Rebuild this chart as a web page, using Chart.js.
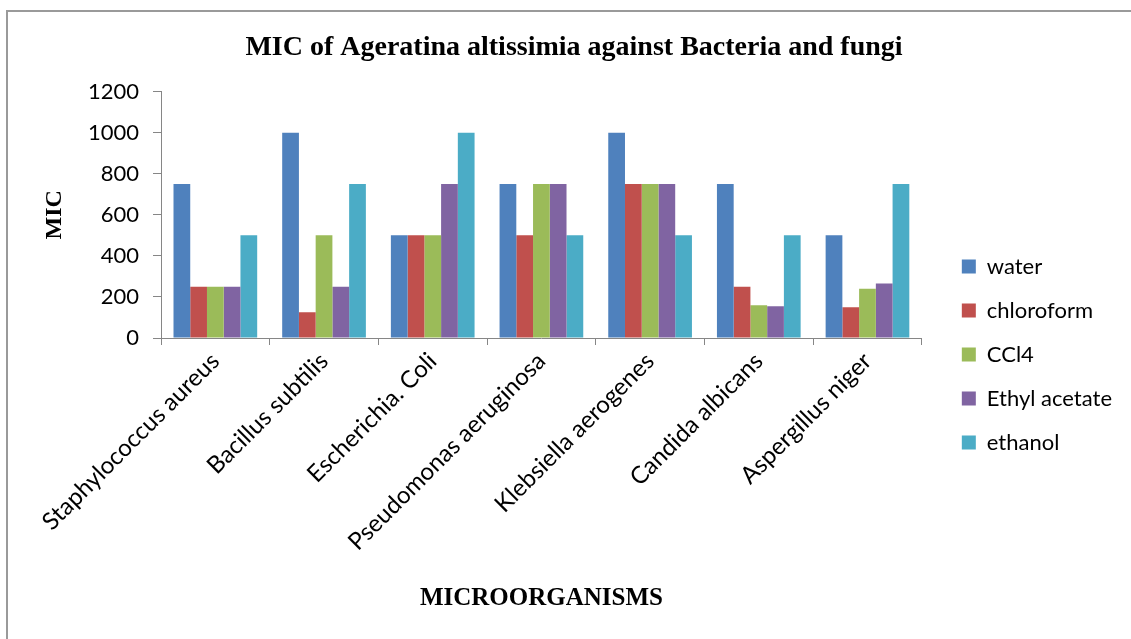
<!DOCTYPE html>
<html>
<head>
<meta charset="utf-8">
<script src="https://cdn.jsdelivr.net/npm/chart.js@4.4.0/dist/chart.umd.min.js"></script>
<style>
  html, body { margin: 0; padding: 0; background: #fff; }
  #wrap { position: relative; width: 1131px; height: 639px; overflow: hidden; }
  #frame { position: absolute; left: 6px; top: 10px; width: 1200px; height: 700px;
           border-left: 2px solid #9a9a9a; border-top: 2px solid #9a9a9a; box-sizing: border-box; }
  canvas { position: absolute; left: 0; top: 0; }
</style>
</head>
<body>
<div id="wrap">
  <div id="frame"></div>
  <canvas id="c" width="1131" height="639"></canvas>
</div>
<script>
// Microorganisms tested
const categories = [
  'Staphylococcus aureus', 'Bacillus subtilis', 'Escherichia. Coli',
  'Pseudomonas aeruginosa', 'Klebsiella aerogenes', 'Candida albicans', 'Aspergillus niger'
];

// MIC values per extract solvent
const water        = [750, 1000, 500, 750, 1000, 750, 500];
const chloroform   = [250, 125, 500, 500, 750, 250, 150];
const ccl4         = [250, 500, 500, 750, 750, 160, 240];
const ethylAcetate = [250, 250, 750, 750, 750, 155, 265];
const ethanol      = [500, 750, 1000, 500, 500, 500, 750];

const seriesNames = ['water', 'chloroform', 'CCl4', 'Ethyl acetate', 'ethanol'];
const seriesValues = [water, chloroform, ccl4, ethylAcetate, ethanol];
const seriesColors = ['#4F81BD', '#C0504D', '#9BBB59', '#8064A2', '#4BACC6'];

const yTicks = [0, 200, 400, 600, 800, 1000, 1200];

const sans = 'Lato, "Open Sans", sans-serif';
const serif = '"Liberation Serif", "DejaVu Serif", serif';

// nudges the legend and title blocks into place around the plot
const blockShift = {
  id: 'blockShift',
  afterLayout(chart) {
    const lg = chart.legend;
    if (lg) {
      lg.left += 18; lg.right += 18;
      lg.top += 35; lg.bottom += 35;
    }
    const tb = chart.titleBlock;
    if (tb) {
      tb.left += 18; tb.right += 18;
    }
  }
};

new Chart(document.getElementById('c'), {
  type: 'bar',
  data: {
    labels: categories,
    datasets: seriesNames.map((name, i) => ({
      label: name,
      data: seriesValues[i],
      backgroundColor: seriesColors[i],
      borderWidth: 0,
      categoryPercentage: 0.77,
      barPercentage: 1.0
    }))
  },
  options: {
    responsive: false,
    animation: false,
    layout: { padding: { left: 8, right: 27, top: 0, bottom: 0 } },
    plugins: {
      title: {
        display: true,
        text: 'MIC of Ageratina altissimia against Bacteria and fungi',
        color: '#000',
        font: { family: serif, size: 28, weight: 'bold' },
        padding: { top: 31, bottom: 27 }
      },
      legend: {
        position: 'right',
        align: 'center',
        labels: {
          boxWidth: 14,
          boxHeight: 14,
          padding: 22,
          color: '#000',
          font: { family: sans, size: 22 }
        }
      },
      tooltip: { enabled: false }
    },
    scales: {
      x: {
        offset: true,
        grid: {
          offset: true,
          drawOnChartArea: false,
          drawTicks: true,
          tickLength: 7,
          color: '#868686'
        },
        border: { color: '#868686', width: 1 },
        ticks: {
          color: '#000',
          font: { family: sans, size: 24 },
          minRotation: 45,
          maxRotation: 45,
          autoSkip: false,
          padding: 2
        },
        title: {
          display: true,
          text: 'MICROORGANISMS',
          color: '#000',
          font: { family: serif, size: 25, weight: 'bold' },
          padding: { top: 0, bottom: 25 }
        },
        afterFit(scale) { scale.height = 301; }
      },
      y: {
        min: 0,
        max: 1200,
        afterBuildTicks(scale) { scale.ticks = yTicks.map(v => ({ value: v })); },
        grid: {
          drawOnChartArea: false,
          drawTicks: true,
          tickLength: 8,
          color: '#868686'
        },
        border: { color: '#868686', width: 1 },
        ticks: {
          color: '#000',
          font: { family: sans, size: 22 },
          padding: 14,
          callback: (v) => String(v)
        },
        title: {
          display: true,
          text: 'MIC',
          color: '#000',
          font: { family: serif, size: 24, weight: 'bold' },
          padding: { top: 32, bottom: 0 }
        },
        afterFit(scale) { scale.width = 153; }
      }
    }
  },
  plugins: [blockShift]
});
</script>
</body>
</html>
